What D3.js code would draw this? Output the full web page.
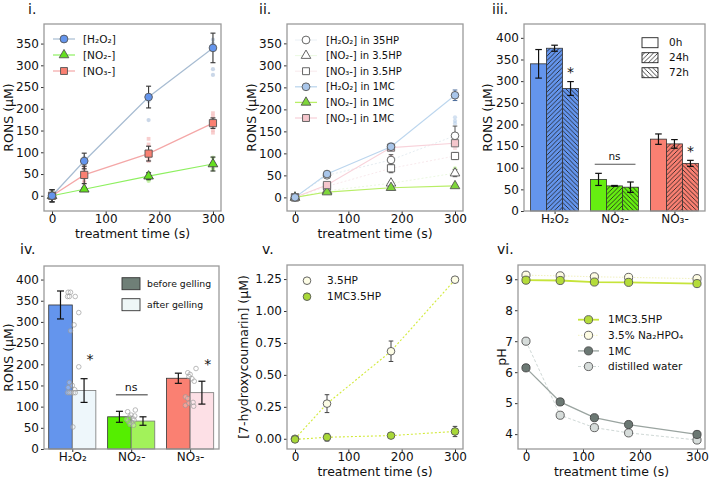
<!DOCTYPE html>
<html><head><meta charset="utf-8">
<script src="https://cdn.jsdelivr.net/npm/d3@7"></script>
<style>body{margin:0;background:#fff} svg{font-family:"DejaVu Sans",sans-serif}</style>
</head><body><svg id="c" width="709" height="479"></svg>
<script>
// ---------------- DATA ----------------
const tTimes = [0, 60, 180, 300];
const xTicks = [0, 100, 200, 300];
const ronsTicks = [0, 50, 100, 150, 200, 250, 300, 350];
const barTicks = [0, 50, 100, 150, 200, 250, 300, 350, 400];
const categories = ["H₂O₂", "NO₂-", "NO₃-"];

// panel i
const h2o2I = [0, 80, 227, 340], h2o2IErr = [14, 18, 25, 34];
const no2I = [0, 15, 45, 73], no2IErr = [14, 4, 8, 16];
const no3I = [0, 48, 97, 167], no3IErr = [14, 20, 17, 12];
const h2o2IRaw = [[60, 88], [60, 74], [180, 174], [180, 232], [180, 218], [300, 359], [300, 350], [300, 291], [300, 278]];
const no2IRaw = [[180, 52], [180, 38], [180, 34], [300, 88], [300, 64], [300, 60]];
const no3IRaw = [[60, 66], [60, 56], [60, 36], [60, 30], [180, 131], [180, 118], [180, 88], [180, 80], [300, 190], [300, 182], [300, 152], [300, 145]];

// panel ii
const h2o2HP = [0, 50, 85, 140], h2o2HPErr = [6, 5, 12, 22];
const no2HP = [0, 15, 32, 55], no2HPErr = [3, 3, 4, 8];
const no3HP = [0, 25, 66, 94], no3HPErr = [6, 5, 10, 8];
const h2o2MC = [0, 53, 115, 232], h2o2MCErr = [6, 5, 8, 12];
const no2MC = [0, 12, 22, 26], no2MCErr = [3, 3, 3, 3];
const no3MC = [0, 28, 113, 123], no3MCErr = [6, 6, 6, 6];
const h2o2MCRaw = [[300, 182], [300, 174], [300, 168]];
const no2MCRaw = [[300, 66], [300, 62]];
const no3MCRaw = [[180, 92], [300, 112]];

// panel iii
const bar0h = [340, 73, 166], bar0hErr = [33, 14, 12];
const bar24h = [376, 58, 155], bar24hErr = [7, 1, 10];
const bar72h = [283, 55, 110], bar72hErr = [16, 12, 7];
const storageLabels = ["0h", "24h", "72h"];

// panel iv
const before = [340, 76, 167], beforeErr = [33, 13, 12];
const after = [138, 66, 133], afterErr = [28, 10, 27];
const gelLabels = ["before gelling", "after gelling"];
// individual replicates: [category index, offset, value]
const gelDots = [
  [0,-0.07,370],[0,-0.03,370],[0,-0.08,360],[0,-0.05,360],[0,0.05,360],[0,0.11,322],[0,0.03,293],[0,-0.03,279],
  [0,0.11,194],[0,-0.05,157],[0,0.0,150],[0,-0.07,145],[0,0.04,140],[0,-0.08,133],[0,-0.05,133],[0,-0.02,133],[0,0.02,133],[0,0.05,133],[0,0.01,52],
  [1,-0.06,88],[1,0.07,92],[1,0.0,80],[1,-0.03,75],[1,0.03,72],[1,0.05,68],[1,-0.05,65],[1,0.01,62],[1,-0.02,58],[1,0.04,56],[1,0.06,78],[1,-0.08,70],
  [2,0.1,190],[2,-0.04,180],[2,0.0,176],[2,-0.02,171],[2,0.03,166],[2,0.07,160],[2,-0.08,123],[2,-0.04,119],[2,0.05,110],[2,-0.08,103],[2,0.06,101],[2,-0.02,108]
];

// panel v
const hp35 = [0, 0.275, 0.685, 1.245], hp35Err = [0.012, 0.07, 0.08, 0.02];
const mc35 = [-0.005, 0.012, 0.025, 0.057], mc35Err = [0.012, 0.03, 0.012, 0.04];
const vTicks = [0, 0.25, 0.5, 0.75, 1.0, 1.25];

// panel vi
const tPH = [0, 60, 120, 180, 300];
const ph1MC35 = [8.97, 8.96, 8.91, 8.90, 8.86];
const phNa = [9.13, 9.11, 9.08, 9.06, 9.02];
const ph1MC = [6.14, 5.04, 4.53, 4.31, 3.99];
const phWater = [7.0, 4.61, 4.21, 4.04, 3.81];
const phTicks = [4, 5, 6, 7, 8, 9];

// ---------------- DRAWING ----------------
const svg = d3.select("#c");
const defs = svg.append("defs");
function hatch(id, d) {
  const p = defs.append("pattern").attr("id", id).attr("patternUnits", "userSpaceOnUse")
    .attr("width", 4.5).attr("height", 4.5);
  p.append("path").attr("d", d).attr("stroke", "#1a1a1a").attr("stroke-width", 0.8).attr("fill", "none");
}
hatch("fwd", "M-1,1 l2,-2 M0,4.5 l4.5,-4.5 M3.5,5.5 l2,-2");
hatch("bwd", "M-1,3.5 l2,2 M0,0 l4.5,4.5 M3.5,-1 l2,2");

const TICK_FS = 12, LAB_FS = 12.5, LEG_FS = 10;

function panel(o) {
  const g = svg.append("g");
  const x = d3.scaleLinear().domain(o.xd).range([o.l, o.r]);
  const y = d3.scaleLinear().domain(o.yd).range([o.b, o.t]);
  const content = g.append("g");
  const ax = g.append("g").attr("transform", `translate(0,${o.b})`)
    .call(d3.axisBottom(x).tickValues(o.xt).tickSize(3).tickPadding(0)
      .tickFormat(o.xfmt || (d => d)));
  const ay = g.append("g").attr("transform", `translate(${o.l},0)`)
    .call(d3.axisLeft(y).tickValues(o.yt).tickSize(3).tickPadding(2).tickFormat(o.yfmt || (d => d)));
  [ax, ay].forEach(a => {
    a.select(".domain").remove();
    a.selectAll("text").attr("font-size", TICK_FS).attr("font-family", "DejaVu Sans").attr("fill", "#111");
    a.selectAll("line").attr("stroke", "#333");
  });
  g.append("rect").attr("x", o.l).attr("y", o.t).attr("width", o.r - o.l).attr("height", o.b - o.t)
    .attr("fill", "none").attr("stroke", "#9a9a9a").attr("stroke-width", 1.3);
  if (o.xlabel) g.append("text").attr("x", (o.l + o.r) / 2).attr("y", o.b + 26.5)
    .attr("text-anchor", "middle").attr("font-size", LAB_FS).attr("fill", "#111").text(o.xlabel);
  g.append("text").attr("transform", `translate(${o.ylx},${(o.t + o.b) / 2}) rotate(-90)`)
    .attr("text-anchor", "middle").attr("dy", "0.35em").attr("font-size", LAB_FS).attr("fill", "#111").text(o.ylabel);
  g.append("text").attr("x", o.tx).attr("y", o.ty).attr("font-size", 14).attr("fill", "#111").text(o.title);
  return { g: content, x, y };
}

function line(P, xs, ys, color, w, dash, op) {
  P.g.append("path").datum(xs.map((t, i) => [t, ys[i]]))
    .attr("d", d3.line().x(d => P.x(d[0])).y(d => P.y(d[1])))
    .attr("fill", "none").attr("stroke", color).attr("stroke-width", w)
    .attr("stroke-dasharray", dash || null).attr("opacity", op == null ? 1 : op);
}
function errs(P, xs, ys, es, color, cap, w) {
  xs.forEach((t, i) => {
    const cx = P.x(t), y0 = P.y(ys[i] - es[i]), y1 = P.y(ys[i] + es[i]);
    const gg = P.g.append("g").attr("stroke", color).attr("stroke-width", w || 1);
    gg.append("line").attr("x1", cx).attr("x2", cx).attr("y1", y0).attr("y2", y1);
    gg.append("line").attr("x1", cx - cap).attr("x2", cx + cap).attr("y1", y0).attr("y2", y0);
    gg.append("line").attr("x1", cx - cap).attr("x2", cx + cap).attr("y1", y1).attr("y2", y1);
  });
}
const symTypes = { circle: d3.symbolCircle, tri: d3.symbolTriangle, square: d3.symbolSquare };
function marker(g, cx, cy, shape, size, fill, stroke, sw, op) {
  g.append("path").attr("d", d3.symbol().type(symTypes[shape]).size(size)())
    .attr("transform", `translate(${cx},${cy})`).attr("fill", fill)
    .attr("stroke", stroke).attr("stroke-width", sw == null ? 0.9 : sw).attr("opacity", op == null ? 1 : op);
}
function markers(P, xs, ys, shape, size, fill, stroke, sw) {
  xs.forEach((t, i) => marker(P.g, P.x(t), P.y(ys[i]), shape, size, fill, stroke, sw));
}
function raw(P, pts, shape, size, fill, op) {
  pts.forEach(p => marker(P.g, P.x(p[0]), P.y(p[1]), shape, size, fill, "none", 0, op));
}
function legText(g, x, y, s, fs) {
  g.append("text").attr("x", x).attr("y", y).attr("dy", "0.35em").attr("font-size", fs || LEG_FS).attr("fill", "#111").text(s);
}

const BLUE = "#6495ED", GREEN = "#66ee11", SALMON = "#FA8072";

// ---- panel i ----
{
  const P = panel({ l: 44, r: 221, t: 24, b: 211, xd: [-15, 315], yd: [-35, 395], xt: xTicks, yt: ronsTicks,
    xlabel: "treatment time (s)", ylabel: "RONS (µM)", ylx: 9, title: "i.", tx: 28, ty: 13.5 });
  raw(P, h2o2IRaw, "circle", 14, "#9fb6d6", 0.55);
  raw(P, no2IRaw, "circle", 14, "#9be86a", 0.55);
  raw(P, no3IRaw, "square", 14, "#f3a6a6", 0.55);
  line(P, tTimes, h2o2I, "#a7bcd2", 1.2);
  line(P, tTimes, no2I, "#8ef060", 1.2);
  line(P, tTimes, no3I, "#f4a7a7", 1.2);
  errs(P, tTimes, no3I, no3IErr, "#333", 2.5, 1.1);
  errs(P, tTimes, no2I, no2IErr, "#333", 2.5, 1.1);
  errs(P, tTimes, h2o2I, h2o2IErr, "#333", 2.5, 1.1);
  markers(P, tTimes, no2I, "tri", 40, "#66e020", "#444");
  markers(P, tTimes, no3I, "square", 52, SALMON, "#555");
  markers(P, tTimes, h2o2I, "circle", 46, BLUE, "#555");
  const L = P.g.append("g");
  const rows = [39, 55, 71], cols = ["#a7bcd2", "#8ef060", "#f4a7a7"], sh = ["circle", "tri", "square"],
    fills = [BLUE, "#66e020", SALMON], labs = ["[H₂O₂]", "[NO₂-]", "[NO₃-]"];
  rows.forEach((ry, i) => {
    L.append("line").attr("x1", 53).attr("x2", 75).attr("y1", ry).attr("y2", ry).attr("stroke", cols[i]).attr("stroke-width", 1.2);
    marker(L, 64, ry, sh[i], sh[i] === "tri" ? 40 : 48, fills[i], "#555");
    legText(L, 83, ry, labs[i], 10.5);
  });
}

// ---- panel ii ----
{
  const P = panel({ l: 287, r: 463, t: 24, b: 211, xd: [-15, 315], yd: [-31, 394], xt: xTicks, yt: ronsTicks,
    xlabel: "treatment time (s)", ylabel: "RONS (µM)", ylx: 252, title: "ii.", tx: 259, ty: 13.5 });
  raw(P, h2o2MCRaw, "circle", 14, "#a8c4e4", 0.5);
  raw(P, no2MCRaw, "circle", 14, "#a8ee70", 0.5);
  raw(P, no3MCRaw, "square", 14, "#f6c0c8", 0.5);
  line(P, tTimes, h2o2HP, "#c9d6e2", 0.8, "2,2", 0.6);
  line(P, tTimes, no2HP, "#d4f0c0", 0.8, "2,2", 0.6);
  line(P, tTimes, no3HP, "#f0d0d6", 0.8, "2,2", 0.6);
  line(P, tTimes, h2o2MC, "#bcd6ee", 1.1);
  line(P, tTimes, no2MC, "#b8ee66", 1.1);
  line(P, tTimes, no3MC, "#f8d2da", 1.1);
  errs(P, tTimes, h2o2HP, h2o2HPErr, "#555", 2.3, 1);
  errs(P, tTimes, no3HP, no3HPErr, "#555", 2.3, 1);
  errs(P, tTimes, no2HP, no2HPErr, "#555", 2.3, 1);
  errs(P, tTimes, h2o2MC, h2o2MCErr, "#4a6a9a", 2.3, 1);
  errs(P, tTimes, no3MC, no3MCErr, "#777", 2.3, 1);
  markers(P, tTimes, no2HP, "tri", 40, "#fff", "#555");
  markers(P, tTimes, no3HP, "square", 52, "#fff", "#555");
  markers(P, tTimes, h2o2HP, "circle", 46, "#fff", "#555");
  markers(P, tTimes, no2MC, "tri", 40, "#7ed63a", "#555");
  markers(P, tTimes, no3MC, "square", 52, "#f5c6cc", "#666");
  markers(P, tTimes, h2o2MC, "circle", 46, "#a9c6ea", "#555");
  const L = P.g.append("g");
  const rows = [40, 55.6, 71.2, 86.8, 102.4, 118];
  const labs = ["[H₂O₂] in 35HP", "[NO₂-] in 3.5HP", "[NO₃-] in 3.5HP", "[H₂O₂] in 1MC", "[NO₂-] in 1MC", "[NO₃-] in 1MC"];
  const sh = ["circle", "tri", "square", "circle", "tri", "square"];
  const fills = ["#fff", "#fff", "#fff", "#a9c6ea", "#7ed63a", "#f5c6cc"];
  const lc = ["#e4ecf2", "#e6f6da", "#f6e4e8", "#bcd6ee", "#b8ee66", "#f8d2da"];
  rows.forEach((ry, i) => {
    L.append("line").attr("x1", 295).attr("x2", 317).attr("y1", ry).attr("y2", ry).attr("stroke", lc[i]).attr("stroke-width", i < 3 ? 0.8 : 1.3);
    marker(L, 306, ry, sh[i], sh[i] === "tri" ? 40 : 48, fills[i], "#555");
    legText(L, 326, ry, labs[i]);
  });
}

// ---- panel iii ----
{
  const P = panel({ l: 524, r: 705, t: 24, b: 211, xd: [-0.51, 2.51], yd: [0, 432], xt: [0, 1, 2], yt: barTicks,
    xfmt: i => categories[i], ylabel: "RONS (µM)", ylx: 488, title: "iii.", tx: 492, ty: 13.5 });
  const cols = [BLUE, GREEN, SALMON];
  const series = [[bar0h, bar0hErr, null], [bar24h, bar24hErr, "fwd"], [bar72h, bar72hErr, "bwd"]];
  const w = 0.8 / 3;
  series.forEach(([vals, es, pat], k) => {
    vals.forEach((v, i) => {
      const x0 = P.x(i - 0.4 + k * w), x1 = P.x(i - 0.4 + (k + 1) * w);
      P.g.append("rect").attr("x", x0).attr("y", P.y(v)).attr("width", x1 - x0).attr("height", P.y(0) - P.y(v))
        .attr("fill", cols[i]);
      if (pat) P.g.append("rect").attr("x", x0).attr("y", P.y(v)).attr("width", x1 - x0).attr("height", P.y(0) - P.y(v))
        .attr("fill", `url(#${pat})`);
      P.g.append("rect").attr("x", x0).attr("y", P.y(v)).attr("width", x1 - x0).attr("height", P.y(0) - P.y(v))
        .attr("fill", "none").attr("stroke", "#333").attr("stroke-width", 0.8);
    });
  });
  series.forEach(([vals, es], k) => {
    errs(P, vals.map((v, i) => i - 0.4 + (k + 0.5) * w), vals, es, "#111", 3.3, 1.2);
  });
  // annotations
  P.g.append("text").attr("x", P.x(0 - 0.4 + 2.5 * w)).attr("y", P.y(bar72h[0] + bar72hErr[0] + 10)).attr("text-anchor", "middle")
    .attr("font-size", 14).attr("fill", "#111").text("*");
  P.g.append("text").attr("x", P.x(2 - 0.4 + 2.5 * w)).attr("y", P.y(bar72h[2] + bar72hErr[2] + 10)).attr("text-anchor", "middle")
    .attr("font-size", 14).attr("fill", "#111").text("*");
  P.g.append("line").attr("x1", P.x(0.67)).attr("x2", P.x(1.35)).attr("y1", P.y(108)).attr("y2", P.y(108)).attr("stroke", "#555").attr("stroke-width", 1.2);
  P.g.append("text").attr("x", P.x(1.0)).attr("y", P.y(118)).attr("text-anchor", "middle").attr("font-size", 10.5).attr("fill", "#111").text("ns");
  const L = P.g.append("g");
  [42.7, 57.7, 72.7].forEach((ry, i) => {
    const pats = [null, "fwd", "bwd"];
    L.append("rect").attr("x", 642).attr("y", ry - 5).attr("width", 16).attr("height", 10).attr("fill", "#fff");
    if (pats[i]) L.append("rect").attr("x", 642).attr("y", ry - 5).attr("width", 16).attr("height", 10).attr("fill", `url(#${pats[i]})`);
    L.append("rect").attr("x", 642).attr("y", ry - 5).attr("width", 16).attr("height", 10).attr("fill", "none").attr("stroke", "#222").attr("stroke-width", 0.9);
    legText(L, 669, ry, storageLabels[i], 10.5);
  });
}

// ---- panel iv ----
{
  const P = panel({ l: 44, r: 219, t: 266, b: 449, xd: [-0.48, 2.49], yd: [0, 432], xt: [0, 1, 2], yt: barTicks,
    xfmt: i => categories[i], ylabel: "RONS (µM)", ylx: 9, title: "iv.", tx: 20, ty: 253.5 });
  const colB = [BLUE, "#55ee00", SALMON];
  const colA = ["#eef7fb", "#a2f25a", "#fde0e6"];
  [[before, colB, -0.4, "#333"], [after, colA, 0, "#777"]].forEach(([vals, cols, off, ec]) => {
    vals.forEach((v, i) => {
      const x0 = P.x(i + off), x1 = P.x(i + off + 0.4);
      P.g.append("rect").attr("x", x0).attr("y", P.y(v)).attr("width", x1 - x0).attr("height", P.y(0) - P.y(v))
        .attr("fill", cols[i]).attr("stroke", ec).attr("stroke-width", 0.8);
    });
  });
  gelDots.forEach(([c, off, v]) => {
    P.g.append("circle").attr("cx", P.x(c + off)).attr("cy", P.y(v)).attr("r", 2.3)
      .attr("fill", "#fff").attr("fill-opacity", 0.3).attr("stroke", "#9a9a9a").attr("stroke-width", 0.8).attr("opacity", 0.85);
  });
  errs(P, [-0.2, 0.8, 1.8], before, beforeErr, "#111", 3.5, 1.2);
  errs(P, [0.2, 1.2, 2.2], after, afterErr, "#111", 3.5, 1.2);
  P.g.append("text").attr("x", P.x(0.3)).attr("y", P.y(after[0] + afterErr[0] + 34)).attr("text-anchor", "middle")
    .attr("font-size", 14).attr("fill", "#111").text("*");
  P.g.append("text").attr("x", P.x(2.3)).attr("y", P.y(after[2] + afterErr[2] + 30)).attr("text-anchor", "middle")
    .attr("font-size", 14).attr("fill", "#111").text("*");
  P.g.append("line").attr("x1", P.x(0.74)).attr("x2", P.x(1.28)).attr("y1", P.y(128)).attr("y2", P.y(128)).attr("stroke", "#777").attr("stroke-width", 1.6);
  P.g.append("text").attr("x", P.x(1.0)).attr("y", P.y(138)).attr("text-anchor", "middle").attr("font-size", 11).attr("fill", "#111").text("ns");
  const L = P.g.append("g");
  [[283.7, "#6f7f77"], [304.7, "#eef6f6"]].forEach(([ry, f], i) => {
    L.append("rect").attr("x", 122).attr("y", ry - 6).attr("width", 18).attr("height", 12).attr("fill", f).attr("stroke", "#333").attr("stroke-width", 0.9);
    legText(L, 147, ry, gelLabels[i], 9.3);
  });
}

// ---- panel v ----
{
  const P = panel({ l: 287, r: 463, t: 265, b: 449, xd: [-15, 315], yd: [-0.08, 1.36], xt: xTicks, yt: vTicks,
    yfmt: d3.format(".2f"), xlabel: "treatment time (s)", ylabel: "[7-hydroxycoumarin] (µM)", ylx: 243.5, title: "v.", tx: 262, ty: 254 });
  line(P, tTimes, hp35, "#d2ea3a", 1.1, "2,2");
  line(P, tTimes, mc35, "#d2ea3a", 1.1, "2,2");
  errs(P, tTimes, hp35, hp35Err, "#444", 2.3, 1);
  errs(P, tTimes, mc35, mc35Err, "#444", 2.3, 1);
  markers(P, tTimes, hp35, "circle", 46, "#fdfde6", "#555");
  markers(P, tTimes, mc35, "circle", 46, "#a8d838", "#555");
  const L = P.g.append("g");
  marker(L, 307, 280.7, "circle", 46, "#fdfde6", "#555");
  marker(L, 307, 296.7, "circle", 46, "#a8d838", "#555");
  legText(L, 327, 280.7, "3.5HP", 10.5);
  legText(L, 327, 296.7, "1MC3.5HP", 10.5);
}

// ---- panel vi ----
{
  const P = panel({ l: 518, r: 705, t: 265, b: 449, xd: [-14, 314], yd: [3.52, 9.46], xt: xTicks, yt: phTicks,
    xlabel: "treatment time (s)", ylabel: "pH", ylx: 502, title: "vi.", tx: 497, ty: 254 });
  line(P, tPH, phNa, "#f2f2c0", 1, "1.5,1.5");
  line(P, tPH, ph1MC35, "#c6e43a", 1.8);
  line(P, tPH, phWater, "#cfd8d6", 1, "3,2");
  line(P, tPH, ph1MC, "#9aa4a0", 1.3);
  markers(P, tPH, phNa, "circle", 52, "#fdfbe2", "#555");
  markers(P, tPH, ph1MC35, "circle", 52, "#b4dc3a", "#555");
  markers(P, tPH, phWater, "circle", 52, "#d6dcda", "#555");
  markers(P, tPH, ph1MC, "circle", 52, "#6b7873", "#444");
  const L = P.g.append("g");
  const rows = [319.7, 335.3, 350.9, 366.5];
  const labs = ["1MC3.5HP", "3.5% Na₂HPO₄", "1MC", "distilled water"];
  const fills = ["#b4dc3a", "#fdfbe2", "#6b7873", "#d6dcda"];
  const lc = ["#c6e43a", "#f2f2c0", "#9aa4a0", "#cfd8d6"], lw = [1.8, 1, 1.3, 1], ld = [null, "1.5,1.5", null, "3,2"];
  rows.forEach((ry, i) => {
    L.append("line").attr("x1", 578).attr("x2", 599).attr("y1", ry).attr("y2", ry).attr("stroke", lc[i]).attr("stroke-width", lw[i]).attr("stroke-dasharray", ld[i]);
    marker(L, 588.5, ry, "circle", 52, fills[i], "#555");
    legText(L, 608, ry, labs[i], 10.5);
  });
}
</script></body></html>
